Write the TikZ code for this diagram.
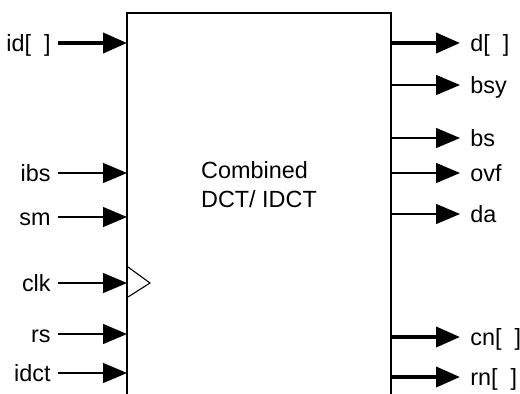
\documentclass[tikz,border=0pt]{standalone}
\usepackage{fontspec}
\setmainfont{Liberation Sans}
\usetikzlibrary{arrows.meta,positioning}
\tikzset{
  blockbox/.style={draw=black,line width=.65pt,minimum width=132pt,minimum height=200pt,
                   inner sep=0pt,outer sep=0pt,anchor=north west},
  pinlbl/.style={inner xsep=3.5pt,inner ysep=0pt,text height=8pt,text depth=0pt},
  outlbl/.style={pinlbl,inner xsep=5pt,anchor=west},
  sig/.style={-{Triangle[length=12pt,width=10pt]},line width=.6pt},
  bus/.style={-{Triangle[length=12pt,width=10pt]},line width=2pt},
  clkmark/.style={draw=black,line width=.55pt},
}

\begin{document}
\begin{tikzpicture}[x=.5pt,y=-.5pt,font=\fontsize{11.7}{14.5}\selectfont]
  \clip (0,0) rectangle (520,393);
  \node[blockbox] (core) at (127,13) {};
  \node[align=left,inner sep=0pt] (title) at (259,185) {Combined\\DCT/ IDCT};
  % inputs
  \foreach \nm/\txt/\y/\kind in {id/{id[~~]}/43/bus, ibs/ibs/173/sig, sm/sm/217/sig,
      clk/clk/283/sig, rs/rs/334/sig, idct/idct/373/sig}{
    \node[pinlbl,anchor=east] (\nm) at (58,\y) {\txt};
    \draw[\kind] (\nm) -- (\nm -| core.west);
  }
  \draw[clkmark] (128,267) -- (150,283) -- (128,297);
  % outputs
  \foreach \nm/\txt/\y/\kind in {d/{d[~~]}/43/bus, bsy/bsy/85/sig, bs/bs/138/sig,
      ovf/ovf/173/sig, da/da/214/sig, cn/{cn[~~]}/337/bus, rn/{rn[~~]}/377/bus}{
    \node[outlbl] (\nm) at (460,\y) {\txt};
    \draw[\kind] (\nm -| core.east) -- (\nm);
  }
\end{tikzpicture}
\end{document}
